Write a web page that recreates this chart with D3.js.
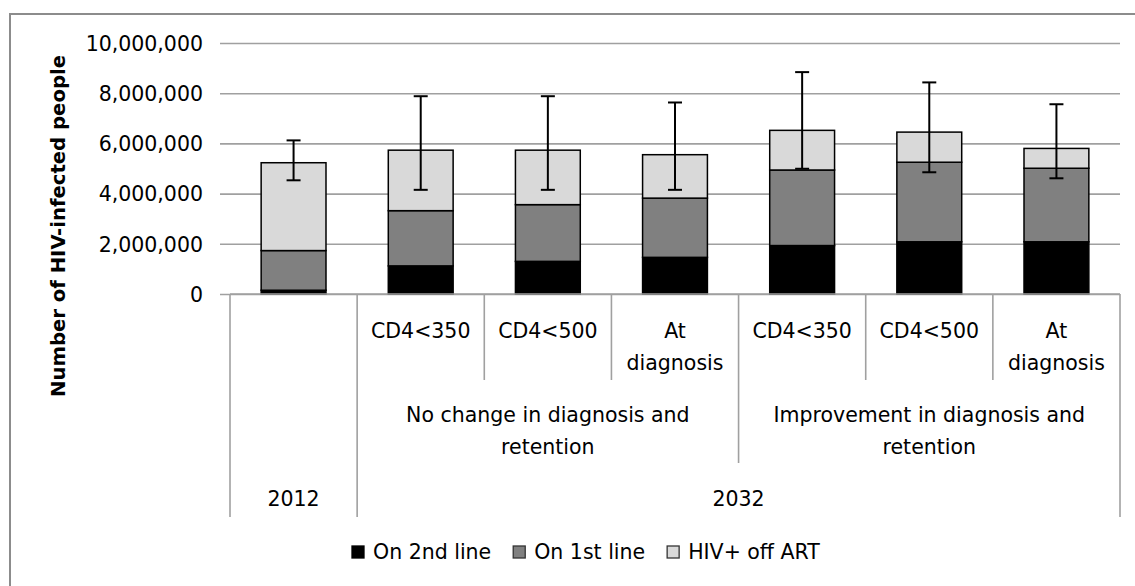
<!DOCTYPE html>
<html>
<head>
<meta charset="utf-8">
<script src="https://cdn.jsdelivr.net/npm/d3@7/dist/d3.min.js"></script>
<style>
  html, body { margin: 0; padding: 0; background: #fff; }
  svg { display: block; }
  text { font-family: "DejaVu Sans", sans-serif; fill: #000; }
</style>
</head>
<body>
<script>
// Projected number of HIV-infected people by ART status, 2012 vs 2032 scenarios
const years       = ["2012", "2032", "2032", "2032", "2032", "2032", "2032"];
const scenarios   = ["", "No change in diagnosis and retention", "No change in diagnosis and retention",
                     "No change in diagnosis and retention", "Improvement in diagnosis and retention",
                     "Improvement in diagnosis and retention", "Improvement in diagnosis and retention"];
const thresholds  = ["", "CD4<350", "CD4<500", "At diagnosis", "CD4<350", "CD4<500", "At diagnosis"];

const onSecondLine = [150000, 1120000, 1300000, 1460000, 1930000, 2080000, 2080000];
const onFirstLine  = [1580000, 2200000, 2260000, 2360000, 3010000, 3170000, 2930000];
const offArt       = [3500000, 2410000, 2170000, 1730000, 1580000, 1200000, 790000];
const errorLow     = [4530000, 4150000, 4150000, 4150000, 4990000, 4850000, 4610000];
const errorHigh    = [6120000, 7880000, 7880000, 7630000, 8840000, 8430000, 7560000];

const seriesNames  = ["On 2nd line", "On 1st line", "HIV+ off ART"];
const seriesColors = ["#000000", "#808080", "#d9d9d9"];
const yTicks       = [0, 2000000, 4000000, 6000000, 8000000, 10000000];

const W = 1135, H = 586;
const plotLeft = 230, plotRight = 1120, plotTop = 43, plotBottom = 294;
const axisBottom = 517;
const level2Bottom = 380, level1Bottom = 463;
const fontSize = 20.5;

const svg = d3.select("body").append("svg").attr("width", W).attr("height", H);

// outer chart border
svg.append("rect").attr("x", 10).attr("y", 14).attr("width", W + 20).attr("height", H + 20)
  .attr("fill", "none").attr("stroke", "#8c8c8c").attr("stroke-width", 2);

const idx = d3.range(years.length);
const x = d3.scaleBand().domain(idx).range([plotLeft, plotRight]).padding(0);
const y = d3.scaleLinear().domain([0, 10000000]).range([plotBottom, plotTop]);
const barW = x.bandwidth() * 0.51;

// gridlines with outside tick marks
const yAxis = d3.axisLeft(y).tickValues(yTicks).tickSize(0).tickPadding(0)
  .tickFormat(d3.format(","));
const ga = svg.append("g").attr("transform", `translate(${plotLeft},0)`).call(yAxis);
ga.select(".domain").remove();
ga.selectAll(".tick line").attr("x1", -10).attr("x2", plotRight - plotLeft)
  .attr("stroke", "#a0a0a0").attr("stroke-width", 1.6);
ga.selectAll(".tick text").attr("x", -27).attr("dy", "0.36em")
  .style("font-size", fontSize + "px").attr("fill", "#000");

// stacked bars
const rows = idx.map(i => ({ i, v: [onSecondLine[i], onFirstLine[i], offArt[i]] }));
const stack = d3.stack().keys([0, 1, 2]).value((d, k) => d.v[k]);
const layers = stack(rows);
svg.append("g").selectAll("g").data(layers).join("g")
  .attr("fill", (d, k) => seriesColors[k])
  .selectAll("rect").data(d => d).join("rect")
  .attr("x", d => x(d.data.i) + (x.bandwidth() - barW) / 2)
  .attr("width", barW)
  .attr("y", d => y(d[1]))
  .attr("height", d => y(d[0]) - y(d[1]))
  .attr("stroke", "#000").attr("stroke-width", 1.5);

// error bars
const eb = svg.append("g").attr("stroke", "#000").attr("stroke-width", 2);
idx.forEach(i => {
  const cx = x(i) + x.bandwidth() / 2;
  eb.append("line").attr("x1", cx).attr("x2", cx).attr("y1", y(errorLow[i])).attr("y2", y(errorHigh[i]));
  eb.append("line").attr("x1", cx - 7).attr("x2", cx + 7).attr("y1", y(errorHigh[i])).attr("y2", y(errorHigh[i]));
  eb.append("line").attr("x1", cx - 7).attr("x2", cx + 7).attr("y1", y(errorLow[i])).attr("y2", y(errorLow[i]));
});

// category axis with three label levels
const ax = svg.append("g").attr("stroke", "#a0a0a0").attr("stroke-width", 1.6);
ax.append("line").attr("x1", plotLeft).attr("x2", plotRight).attr("y1", plotBottom).attr("y2", plotBottom);

// merge consecutive equal labels that share the same year
function groupsOf(arr) {
  const out = [];
  arr.forEach((v, i) => {
    const last = out[out.length - 1];
    if (last && last.label === v && years[i] === years[last.start]) last.end = i;
    else out.push({ label: v, start: i, end: i });
  });
  return out;
}
const lvl0 = groupsOf(years);
const lvl1 = groupsOf(scenarios);
const lvl2 = thresholds.map((t, i) => ({ label: t, start: i, end: i }));

// separator lines: each boundary runs down to the deepest level where it splits
d3.range(years.length + 1).forEach(b => {
  let depth = level2Bottom;
  if (b === years.length || lvl1.some(g => g.start === b)) depth = level1Bottom;
  if (b === years.length || lvl0.some(g => g.start === b)) depth = axisBottom;
  const bx = b === years.length ? plotRight : x(b);
  ax.append("line").attr("x1", bx).attr("x2", bx).attr("y1", plotBottom).attr("y2", depth);
});

function wrapLines(label, maxW) {
  const words = label.split(" ");
  const probe = svg.append("text").style("font-size", fontSize + "px");
  const lines = [];
  let cur = "";
  words.forEach(w => {
    const t = cur ? cur + " " + w : w;
    probe.text(t);
    if (probe.node().getComputedTextLength() > maxW && cur) { lines.push(cur); cur = w; }
    else cur = t;
  });
  if (cur) lines.push(cur);
  probe.remove();
  return lines;
}

function drawLevel(groups, firstBaseline) {
  groups.forEach(g => {
    if (!g.label) return;
    const x0 = x(g.start), x1 = x(g.end) + x.bandwidth();
    const lines = wrapLines(g.label, (x1 - x0) - 14);
    const t = svg.append("text").attr("text-anchor", "middle").style("font-size", fontSize + "px");
    lines.forEach((ln, k) => {
      t.append("tspan").attr("x", (x0 + x1) / 2).attr("y", firstBaseline + k * 32).text(ln);
    });
  });
}
drawLevel(lvl2, 338);
drawLevel(lvl1, 421.5);
drawLevel(lvl0, 506);

// y-axis title
svg.append("text")
  .attr("transform", "translate(65,226) rotate(-90)")
  .attr("text-anchor", "middle")
  .style("font-family", "'DejaVu Sans Condensed', 'DejaVu Sans', sans-serif")
  .style("font-weight", "bold").style("font-size", "19px")
  .attr("textLength", 342).attr("lengthAdjust", "spacingAndGlyphs")
  .text("Number of HIV-infected people");

// legend
const lg = svg.append("g");
let lx = 352;
seriesNames.forEach((name, k) => {
  lg.append("rect").attr("x", lx).attr("y", 546).attr("width", 12).attr("height", 12)
    .attr("fill", seriesColors[k]).attr("stroke", k === 0 ? "#000" : "#333").attr("stroke-width", 1.3);
  const t = lg.append("text").attr("x", lx + 21).attr("y", 559).style("font-size", fontSize + "px").text(name);
  lx += 21 + t.node().getComputedTextLength() + 22;
});
</script>
</body>
</html>
